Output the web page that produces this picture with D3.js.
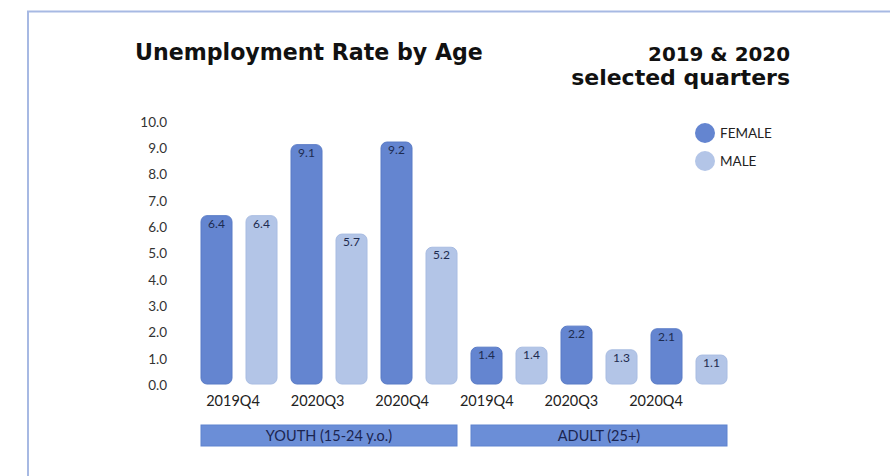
<!DOCTYPE html>
<html>
<head>
<meta charset="utf-8">
<script src="https://cdn.jsdelivr.net/npm/d3@7"></script>
<style>
  html, body { margin: 0; padding: 0; background: #ffffff; }
  svg { display: block; }
  text { font-family: "Lato", "Open Sans", sans-serif; }
</style>
</head>
<body>
<svg id="chart" width="890" height="476"></svg>
<script>
// Unemployment rate (%) by age group, sex and quarter
const groups = ["YOUTH (15-24 y.o.)", "ADULT (25+)"];
const quarters = ["2019Q4", "2020Q3", "2020Q4"];
const sexes = ["FEMALE", "MALE"];
const youthFemale = [6.4, 9.1, 9.2];
const youthMale = [6.4, 5.7, 5.2];
const adultFemale = [1.4, 2.2, 2.1];
const adultMale = [1.4, 1.3, 1.1];
const yTicks = [0, 1, 2, 3, 4, 5, 6, 7, 8, 9, 10];

const colors = { FEMALE: "#6485d0", MALE: "#b3c5e7" };
const strokes = { FEMALE: "#587ac6", MALE: "#a8bce2" };

// Flatten into one row per bar
const seriesByGroup = [
  { FEMALE: youthFemale, MALE: youthMale },
  { FEMALE: adultFemale, MALE: adultMale }
];
const bars = [];
groups.forEach((g, gi) => {
  quarters.forEach((q, qi) => {
    sexes.forEach(s => {
      bars.push({ key: `${gi}-${q}-${s}`, group: gi, quarter: q, qi, sex: s, value: seriesByGroup[gi][s][qi] });
    });
  });
});

const svg = d3.select("#chart");

// Page frame
svg.append("path")
  .attr("d", "M28,476 V11.5 H890")
  .attr("fill", "none")
  .attr("stroke", "#a7b9e3")
  .attr("stroke-width", 2);

// Scale a heading's font so it spans the given width
function fitWidth(sel, width) {
  const len = sel.node().getComputedTextLength();
  const fs = parseFloat(sel.attr("font-size"));
  if (len > 0) sel.attr("font-size", fs * width / len);
}

// Titles
const titleFont = "'DejaVu Sans', Inter, sans-serif";
const title = svg.append("text")
  .attr("x", 135).attr("y", 60)
  .attr("font-size", 21).attr("font-weight", 700)
  .attr("fill", "#111")
  .style("font-family", titleFont)
  .text("Unemployment Rate by Age");
fitWidth(title, 348);

const sub1 = svg.append("text")
  .attr("text-anchor", "end").attr("x", 790).attr("y", 61)
  .attr("font-size", 21).attr("font-weight", 700).attr("fill", "#111")
  .style("font-family", titleFont)
  .text("2019 & 2020");
fitWidth(sub1, 142);
const sub2 = svg.append("text")
  .attr("text-anchor", "end").attr("x", 790).attr("y", 85)
  .attr("font-size", 21).attr("font-weight", 700).attr("fill", "#111")
  .style("font-family", titleFont)
  .text("selected quarters");
fitWidth(sub2, 219);

// Scales
const x = d3.scaleBand()
  .domain(bars.map(d => d.key))
  .range([194, 734])
  .paddingInner(14 / 45)
  .paddingOuter(7 / 45);

const y = d3.scaleLinear().domain([0, 10]).range([384, 121]);

// Y axis labels only
const yAxis = d3.axisLeft(y)
  .tickValues(yTicks)
  .tickFormat(d3.format(".1f"))
  .tickSize(0)
  .tickPadding(0);
const yg = svg.append("g").attr("transform", "translate(167,1)").call(yAxis);
yg.select(".domain").remove();
yg.selectAll("text")
  .attr("font-size", 13.5)
  .attr("fill", "#333")
  .style("font-family", "Lato, sans-serif");

// Bars
const r = 6;
svg.append("g").selectAll("rect")
  .data(bars)
  .join("rect")
  .attr("x", d => x(d.key))
  .attr("y", d => y(d.value))
  .attr("width", x.bandwidth())
  .attr("height", d => y(0) - y(d.value))
  .attr("rx", r).attr("ry", r)
  .attr("fill", d => colors[d.sex])
  .attr("stroke", d => strokes[d.sex])
  .attr("stroke-width", 1);

// Value labels inside the top of each bar
svg.append("g").selectAll("text")
  .data(bars)
  .join("text")
  .attr("x", d => x(d.key) + x.bandwidth() / 2)
  .attr("y", d => y(d.value) + 12)
  .attr("text-anchor", "middle")
  .attr("font-size", 12)
  .attr("fill", "#1d2b4f")
  .text(d => d.value.toFixed(1));

// Quarter labels below each pair
const labelKeys = [];
groups.forEach((g, gi) => quarters.forEach(q => labelKeys.push({ id: `${gi}-${q}`, q })));
const xl = d3.scalePoint().domain(labelKeys.map(d => d.id)).range([233, 656]);
svg.append("g").selectAll("text")
  .data(labelKeys)
  .join("text")
  .attr("x", d => xl(d.id))
  .attr("y", 406)
  .attr("text-anchor", "middle")
  .attr("font-size", 14.5)
  .attr("fill", "#222")
  .text(d => d.q);

// Age group bands
const groupBands = groups.map((g, gi) => {
  const ks = bars.filter(b => b.group === gi).map(b => b.key);
  return { name: g, x0: x(ks[0]), x1: x(ks[ks.length - 1]) + x.bandwidth() };
});
const gb = svg.append("g").selectAll("g").data(groupBands).join("g");
gb.append("rect")
  .attr("x", d => d.x0).attr("y", 425)
  .attr("width", d => d.x1 - d.x0).attr("height", 21)
  .attr("fill", "#6b8ed7")
  .attr("stroke", "#5f83cf").attr("stroke-width", 1);
gb.append("text")
  .attr("x", d => (d.x0 + d.x1) / 2).attr("y", 441)
  .attr("text-anchor", "middle")
  .attr("font-size", 14.5)
  .attr("fill", "#1b2550")
  .text(d => d.name);

// Legend
const lg = svg.append("g").selectAll("g").data(sexes).join("g")
  .attr("transform", (d, i) => `translate(705,${133 + i * 28})`);
lg.append("circle").attr("r", 10).attr("fill", d => colors[d]);
lg.append("text").attr("x", 15).attr("y", 5)
  .attr("font-size", 13.5).attr("fill", "#222").text(d => d);
</script>
</body>
</html>
